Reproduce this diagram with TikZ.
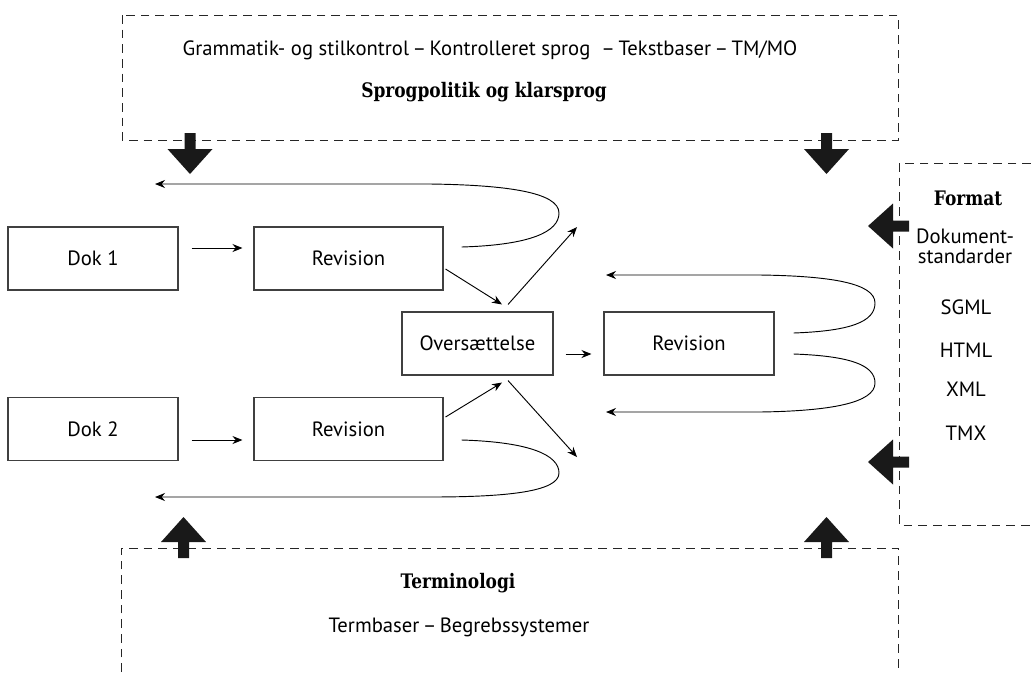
\documentclass[tikz,border=0pt]{standalone}
\usepackage{fontspec}
\setmainfont{PT Sans}
\newfontfamily\headfont{DejaVu Serif}[FakeStretch=0.85]
\usepackage{tikz}
\usetikzlibrary{arrows.meta, positioning}

\begin{document}
\begin{tikzpicture}[
    x=0.75pt, y=-0.75pt,
    box/.style={draw=black!75, line width=0.8pt, minimum height=63*0.75pt,
                font=\fontsize{15.5}{18}\selectfont, inner sep=0pt},
    conn/.style={line width=0.7pt, -{Stealth[length=7.5pt, width=6pt]}},
    zone/.style={draw=black!85, line width=0.6pt, dash pattern=on 6.5pt off 4.5pt},
    txt/.style={font=\fontsize{15.5}{18}\selectfont, inner sep=0pt, align=center},
    head/.style={font=\headfont\bfseries\fontsize{15}{18}\selectfont, inner sep=0pt},
    blk/.style={fill=black!90},
  ]
  \useasboundingbox (0,0) rectangle (1031,672);

  % outer zones
  \draw[zone] (122,15) rectangle (898,140);
  \draw[zone] (1031,163) -- (899,163) -- (899,525) -- (1031,525);
  \draw[zone] (121,672) -- (121,548) -- (898,548) -- (898,672);

  % top zone
  \node[txt] (tools) at (490,50) {Grammatik- og stilkontrol\,–\,Kontrolleret sprog~ –\,Tekstbaser\,–\,TM/MO};
  \node[head] (policy) at (484,92) {Sprogpolitik og klarsprog};

  % right zone
  \node[head] (format) at (968,198) {Format};
  \node[txt, font=\fontsize{15.5}{15}\selectfont] (docstd) at (965,246) {Dokument-\\standarder};
  \node[txt] (sgml) at (966,307) {SGML};
  \node[txt] (html) at (966,350) {HTML};
  \node[txt] (xml)  at (966,389) {XML};
  \node[txt] (tmx)  at (966,433) {TMX};

  % bottom zone
  \node[head] (term) at (458,583) {Terminologi};
  \node[txt] (termbase) at (459,627) {Termbaser\,–\,Begrebssystemer};

  % documents and steps
  \node[box, minimum width=170*0.75pt] (dok1) at (93,258.5) {Dok 1};
  \node[box, minimum width=189*0.75pt] (rev1) at (348.5,258.5) {Revision};
  \node[box, minimum width=170*0.75pt] (dok2) at (93,429) {Dok 2};
  \node[box, minimum width=189*0.75pt] (rev2) at (348.5,429) {Revision};
  \node[box, minimum width=151*0.75pt] (over) at (477.5,343.5) {Oversættelse};
  \node[box, minimum width=170*0.75pt] (rev3) at (689,343.5) {Revision};

  \coordinate (out1) at (577,227);
  \coordinate (out2) at (577,457);
  \coordinate (back1) at (155,184);
  \coordinate (back2) at (155,497);
  \coordinate (back3) at (606,275);
  \coordinate (back4) at (606,412);

  % straight flow
  \draw[conn] ([shift={(13,-10.5)}]dok1.east) -- ([shift={(-11,-10.5)}]rev1.west);
  \draw[conn] ([shift={(13,11)}]dok2.east) -- ([shift={(-11,11)}]rev2.west);
  \draw[conn] ([shift={(12,10.5)}]over.east) -- ([shift={(-12,10.5)}]rev3.west);
  \draw[conn] ([shift={(2,10.5)}]rev1.east) -- ([shift={(24.5,-7)}]over.north);
  \draw[conn] ([shift={(2,-12)}]rev2.east) -- ([shift={(24.5,7)}]over.south);
  \draw[conn] ([shift={(30.5,-7)}]over.north) -- (out1);
  \draw[conn] ([shift={(30.5,5)}]over.south) -- (out2);

  % feedback loops
  \draw[conn] ([shift={(18,-11.5)}]rev1.east) .. controls (530,245) and (559,232) .. (559,213)
    .. controls (559,192) and (505,185) .. (430,184) -- (back1);
  \draw[conn] ([shift={(18,11)}]rev2.east) .. controls (530,442) and (559,455) .. (559,473)
    .. controls (559,492) and (505,497) .. (430,497) -- (back2);
  \draw[conn] ([shift={(19,-10.5)}]rev3.east) .. controls (850,331) and (875,322) .. (875,303)
    .. controls (875,283) and (830,276) .. (760,275) -- (back3);
  \draw[conn] ([shift={(19,10.5)}]rev3.east) .. controls (850,356) and (875,365) .. (875,383)
    .. controls (875,403) and (830,411) .. (760,412) -- (back4);

  % block arrows
  \foreach \px/\py/\ang in {190/133/0, 826.5/133/0, 183.5/558/180, 826.5/558/180, 909/226/-90, 909/462/-90}
    \fill[blk, shift={(\px,\py)}, rotate=\ang]
      (-5.5,0) -- (5.5,0) -- (5.5,16) -- (22.5,16) -- (0,41) -- (-22.5,16) -- (-5.5,16) -- cycle;
\end{tikzpicture}
\end{document}
